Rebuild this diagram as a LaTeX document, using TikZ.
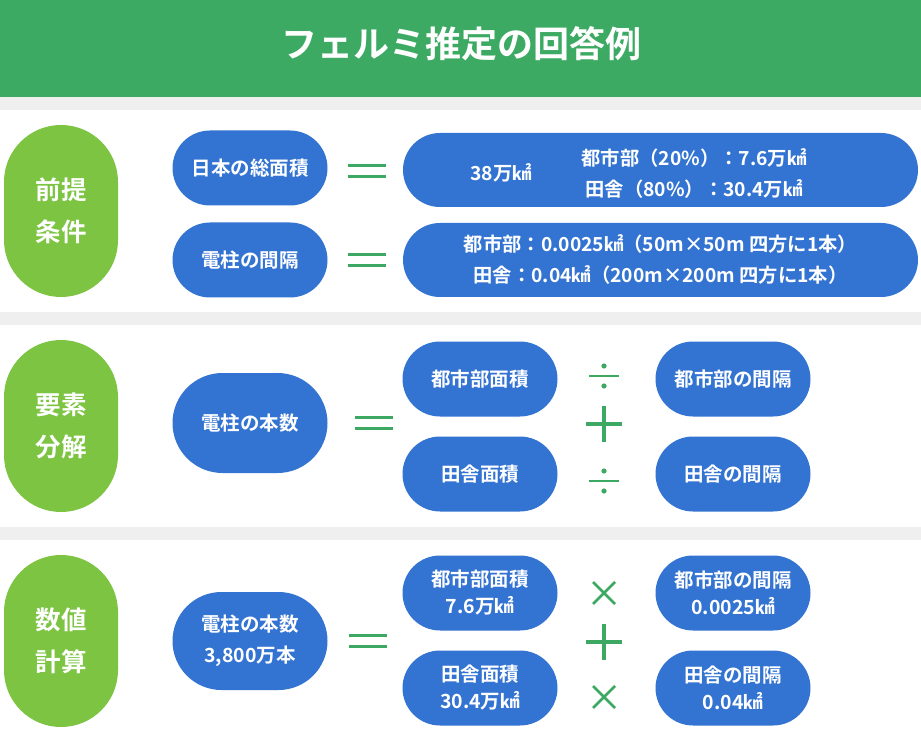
\documentclass[tikz,border=0pt]{standalone}
\usepackage{fontspec}
\setmainfont{Noto Sans CJK JP}[BoldFont={Noto Sans CJK JP Bold}]
\definecolor{titlegreen}{HTML}{3DAA63}
\definecolor{lightgreen}{HTML}{7CC442}
\definecolor{opgreen}{HTML}{3DA862}
\definecolor{pblue}{HTML}{3373D1}
\definecolor{band}{HTML}{EFEFEF}
\tikzset{
  pill/.style={fill=pblue, text=white, font=\bfseries\fontsize{19.5}{27}\selectfont,
    minimum width=155pt, minimum height=75pt, rounded corners=37.5pt,
    inner sep=0pt, align=center},
  widepill/.style={pill, minimum width=515pt, minimum height=74pt, rounded corners=37pt,
    font=\bfseries\fontsize{19.3}{31}\selectfont},
  sidepill/.style={fill=lightgreen, text=white, font=\bfseries\fontsize{25.5}{42}\selectfont,
    minimum width=114pt, minimum height=172pt, rounded corners=57pt,
    inner sep=0pt, align=center},
  opline/.style={draw=opgreen, line width=3.5pt},
}
\newcommand{\eqsign}[2]{\draw[opline] (#1-19,#2-5.5) -- (#1+19,#2-5.5);
  \draw[opline] (#1-19,#2+5.5) -- (#1+19,#2+5.5);}
\newcommand{\plussign}[2]{\draw[opline] (#1-18,#2) -- (#1+18,#2);
  \draw[opline] (#1,#2-18) -- (#1,#2+18);}
\newcommand{\divsign}[2]{\draw[opline, line width=2.8pt] (#1-15,#2) -- (#1+15,#2);
  \fill[opgreen] (#1,#2-10) circle (2.6) (#1,#2+10) circle (2.6);}
\newcommand{\timessign}[2]{\draw[opline, line width=2.8pt] (#1-11,#2-11) -- (#1+11,#2+11);
  \draw[opline, line width=2.8pt] (#1-11,#2+11) -- (#1+11,#2-11);}
\begin{document}
\begin{tikzpicture}[x=1pt,y=-1pt]
\useasboundingbox (0,0) rectangle (921,735);
\fill[white] (0,0) rectangle (921,735);
% title bar and bands
\fill[titlegreen] (0,0) rectangle (921,97);
\node[text=white, font=\bfseries\fontsize{36}{40}\selectfont] (title) at (461,44) {フェルミ推定の回答例};
\fill[band] (0,97) rectangle (921,110);
\fill[band] (0,312) rectangle (921,325);
\fill[band] (0,527) rectangle (921,540);

% ---- section 1
\node[sidepill] (s1) at (61,211) {前提\\条件};
\node[pill] (area) at (250,168) {日本の総面積};
\node[pill] (gap) at (250,260) {電柱の間隔};
\eqsign{367}{171}
\eqsign{367}{260}
\node[widepill] (areaval) at (660.5,170) {};
\node[text=white, font=\bfseries\fontsize{19.3}{31}\selectfont] (areatot) at (501,173) {38万㎢};
\node[text=white, font=\bfseries\fontsize{19.3}{31}\selectfont, align=center] (areasplit) at (694,174)
  {都市部（20\%）：7.6万㎢\\田舎（80\%）：30.4万㎢};
\node[widepill] (gapval) at (660.5,260) {都市部：0.0025㎢（50m×50m 四方に1本）\\田舎：0.04㎢（200m×200m 四方に1本）};

% ---- section 2
\node[sidepill] (s2) at (61,426) {要素\\分解};
\node[pill, minimum height=100pt, rounded corners=50pt] (num2) at (250,423) {電柱の本数};
\eqsign{374}{423}
\node[pill] (ua2) at (480,379) {都市部面積};
\node[pill] (ra2) at (480,474) {田舎面積};
\node[pill] (ug2) at (733,379) {都市部の間隔};
\node[pill] (rg2) at (733,474) {田舎の間隔};
\divsign{604}{376}
\plussign{604}{424}
\divsign{604}{481}

% ---- section 3
\node[sidepill] (s3) at (61,641) {数値\\計算};
\node[pill, minimum height=98pt, rounded corners=49pt, font=\bfseries\fontsize{19.5}{31}\selectfont] (num3) at (250,641) {電柱の本数\\3,800万本};
\eqsign{368}{641}
\node[pill] (ua3) at (480,593) {都市部面積\\7.6万㎢};
\node[pill] (ra3) at (480,688) {田舎面積\\30.4万㎢};
\node[pill] (ug3) at (733,593) {都市部の間隔\\0.0025㎢};
\node[pill] (rg3) at (733,688) {田舎の間隔\\0.04㎢};
\timessign{604}{593}
\plussign{604}{642}
\timessign{604}{697}
\end{tikzpicture}
\end{document}
